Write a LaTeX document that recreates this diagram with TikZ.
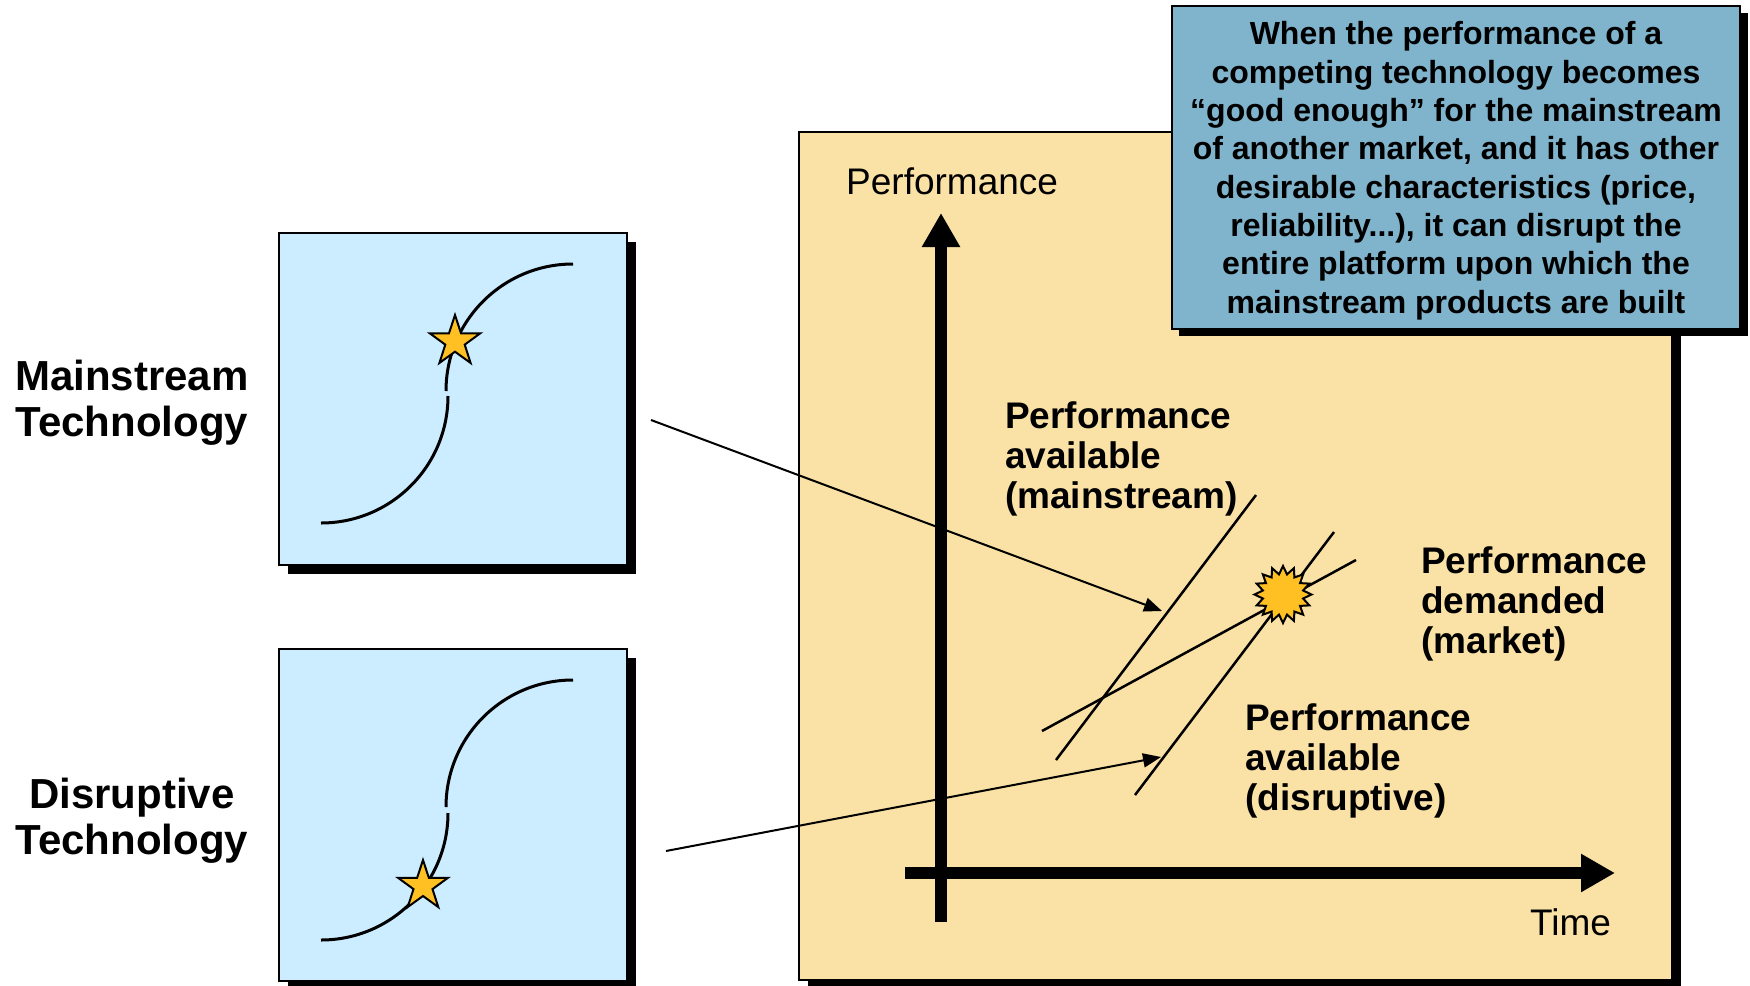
\documentclass[tikz,border=0pt]{standalone}
\usepackage{fontspec}
\setmainfont{Liberation Sans}
\usetikzlibrary{arrows.meta}
\definecolor{boxblue}{RGB}{204,236,255}
\definecolor{chartyellow}{RGB}{250,225,165}
\definecolor{callblue}{RGB}{128,180,204}
\definecolor{stargold}{RGB}{255,192,36}
\tikzset{
  panelshadow/.style={fill=black},
  panelfill/.style={draw=black, line width=2bp},
  scurve/.style={draw=black, line width=3bp},
  axisline/.style={draw=black, line width=12bp, -{Triangle[length=34bp,width=36bp]}},
  trendline/.style={draw=black, line width=2.5bp},
  pointer/.style={draw=black, line width=2bp, -{Triangle[length=18bp,width=14bp]}},
  starmark/.style={fill=stargold, draw=black, line width=2bp, line join=miter},
  sidelabel/.style={font=\fontsize{42bp}{46bp}\selectfont\bfseries, align=center, inner sep=0},
  chartlabel/.style={font=\fontsize{37bp}{40bp}\selectfont\bfseries, align=left, inner sep=0},
  axislabel/.style={font=\fontsize{37bp}{40bp}\selectfont, inner sep=0},
  notetext/.style={font=\fontsize{32bp}{38.3bp}\selectfont\bfseries, align=center, inner sep=0}
}
\begin{document}
\begin{tikzpicture}[x=1bp,y=-1bp]
\useasboundingbox (0,0) rectangle (1750,985);
\fill[white] (0,0) rectangle (1750,985);

% left panels
\fill[panelshadow] (288,242) rectangle (636,574);
\filldraw[panelfill, fill=boxblue] (279,233) rectangle (627,565);
\fill[panelshadow] (288,658) rectangle (636,990);
\filldraw[panelfill, fill=boxblue] (279,649) rectangle (627,981);

% S-curves
\draw[scurve] (321,523) arc[start angle=90,end angle=0,radius=127];
\draw[scurve] (446,391) arc[start angle=180,end angle=270,radius=127];
\draw[scurve] (321,940) arc[start angle=90,end angle=0,radius=127];
\draw[scurve] (446,807) arc[start angle=180,end angle=270,radius=127];

% stars
\filldraw[starmark, shift={(455,341.5)}] (-90:26.5)
  \foreach \i in {1,...,9}{ -- ({-90+\i*36}:{ifthenelse(mod(\i,2)==0,26.5,10.2)}) } -- cycle;
\filldraw[starmark, shift={(423,886)}] (-90:26)
  \foreach \i in {1,...,9}{ -- ({-90+\i*36}:{ifthenelse(mod(\i,2)==0,26,10)}) } -- cycle;

% chart panel
\fill[panelshadow] (808,141) rectangle (1681,989);
\filldraw[panelfill, fill=chartyellow] (799,132) rectangle (1672,980);

% callout
\fill[panelshadow] (1179,13) rectangle (1748,336);
\filldraw[panelfill, fill=callblue] (1172,6) rectangle (1740,329);
\node[notetext, anchor=base] (note) at (1456,313) {When the performance of a\\competing technology becomes\\“good enough” for the mainstream\\of another market, and it has other\\desirable characteristics (price,\\reliability...), it can disrupt the\\entire platform upon which the\\mainstream products are built};

% axes
\coordinate (yaxis0) at (941,922);
\coordinate (yaxis1) at (941,213);
\coordinate (xaxis0) at (905,873);
\coordinate (xaxis1) at (1615,873);
\draw[axisline] (yaxis0) -- (yaxis1);
\draw[axisline] (xaxis0) -- (xaxis1);
\node[axislabel, anchor=base west] (perf) at (846,194) {Performance};
\node[axislabel, anchor=base west] (time) at (1530,935) {Time};

% trend lines
\coordinate (A1) at (1056,760); \coordinate (A2) at (1256,495);
\coordinate (B1) at (1135,795); \coordinate (B2) at (1334,532);
\coordinate (C1) at (1042,731); \coordinate (C2) at (1356,560);
\draw[trendline] (A1) -- (A2);
\draw[trendline] (B1) -- (B2);
\draw[trendline] (C1) -- (C2);

% burst
\coordinate (burst) at (1283,594.5);
\filldraw[starmark, shift={(burst)}] (-90:28.5)
  \foreach \i in {1,...,31}{ -- ({-90+\i*11.25}:{ifthenelse(mod(\i,2)==0,28.5,20.5)}) } -- cycle;

% pointers
\coordinate (p1s) at (651,420); \coordinate (p1e) at (1162,611);
\coordinate (p2s) at (666,851); \coordinate (p2e) at (1161,757);
\draw[pointer] (p1s) -- (p1e);
\draw[pointer] (p2s) -- (p2e);

% side labels (base = last line)
\node[sidelabel, anchor=base] (mlab) at (132,436) {Mainstream\\Technology};
\node[sidelabel, anchor=base] (dlab) at (132,854) {Disruptive\\Technology};

% chart labels (base = last line)
\node[chartlabel, anchor=base west] (lab1) at (1005,508) {Performance\\available\\(mainstream)};
\node[chartlabel, anchor=base west] (lab2) at (1421,653) {Performance\\demanded\\(market)};
\node[chartlabel, anchor=base west] (lab3) at (1245,810) {Performance\\available\\(disruptive)};
\end{tikzpicture}
\end{document}
